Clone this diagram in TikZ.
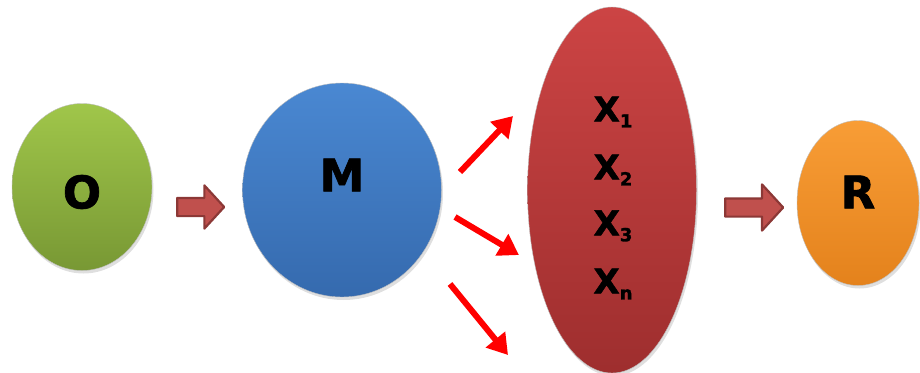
\documentclass[tikz,border=0pt]{standalone}
\usepackage{fontspec}
\setmainfont{DejaVu Sans}
\newfontfamily\heavy[BoldFeatures={FakeBold=1.5}]{DejaVu Sans}
\usetikzlibrary{shapes.geometric,shapes.arrows,arrows.meta,shadows}
\definecolor{gtop}{HTML}{A0C64A}
\definecolor{gbot}{HTML}{789834}
\definecolor{btop}{HTML}{4A88D2}
\definecolor{bbot}{HTML}{356AAE}
\definecolor{rtop}{HTML}{CC4444}
\definecolor{rbot}{HTML}{9E2E2E}
\definecolor{otop}{HTML}{F89D36}
\definecolor{obot}{HTML}{E4821C}
\definecolor{bafill}{HTML}{C0504D}
\definecolor{badraw}{HTML}{8C3836}
\tikzset{
  blob/.style={ellipse, inner sep=0pt, draw=black!25, line width=0.4pt,
    drop shadow={opacity=0.25, shadow xshift=1.5pt, shadow yshift=-3pt}},
  lbl/.style={font=\heavy\bfseries\fontsize{45}{45}\selectfont, inner sep=0pt},
  xlbl/.style={font=\heavy\bfseries\fontsize{34}{34}\selectfont, inner sep=0pt},
  blockarrow/.style={single arrow, fill=bafill, draw=badraw, line width=2.2pt,
    line join=round, inner xsep=0pt, inner ysep=8pt, text height=0pt, text depth=0pt,
    single arrow tip angle=95},
  redarrow/.style={draw=red, line width=6pt, -{Triangle[length=20pt,width=24pt]}}
}
\newcommand{\xsub}[1]{X\raisebox{-6pt}{\fontsize{18}{18}\selectfont #1}}
\begin{document}
\begin{tikzpicture}[x=1pt,y=-1pt]
\useasboundingbox (0,0) rectangle (920,372);
% nodes
\node[blob, minimum width=140pt, minimum height=167pt, top color=gtop, bottom color=gbot] (O) at (82,187) {};
\node[lbl] (Ot) at (82,192) {O};
\node[blob, minimum width=199pt, minimum height=214pt, top color=btop, bottom color=bbot] (M) at (342,190) {};
\node[lbl] (Mt) at (342,175) {M};
\node[blob, minimum width=169pt, minimum height=366pt, top color=rtop, bottom color=rbot] (X) at (612,190) {};
\node[xlbl] (X1) at (613,112) {\xsub{1}};
\node[xlbl] (X2) at (613,170) {\xsub{2}};
\node[xlbl] (X3) at (613,226) {\xsub{3}};
\node[xlbl] (Xn) at (613,284) {\xsub{n}};
\node[blob, minimum width=122pt, minimum height=165pt, top color=otop, bottom color=obot] (R) at (858,203) {};
\node[lbl] (Rt) at (858,192) {R};
% block arrows
\node[blockarrow, minimum height=47pt, single arrow head extend=12.5pt] (A1) at (196.5,207) {};
\node[blockarrow, minimum height=58pt, single arrow head extend=14pt] (A2) at (750,207.5) {};
% red arrows
\coordinate (a1s) at (460,172); \coordinate (a1e) at (513,116);
\coordinate (a2s) at (455,217); \coordinate (a2e) at (519,255);
\coordinate (a3s) at (450,284); \coordinate (a3e) at (508,355);
\draw[redarrow] (a1s) -- (a1e);
\draw[redarrow] (a2s) -- (a2e);
\draw[redarrow] (a3s) -- (a3e);
\end{tikzpicture}
\end{document}
